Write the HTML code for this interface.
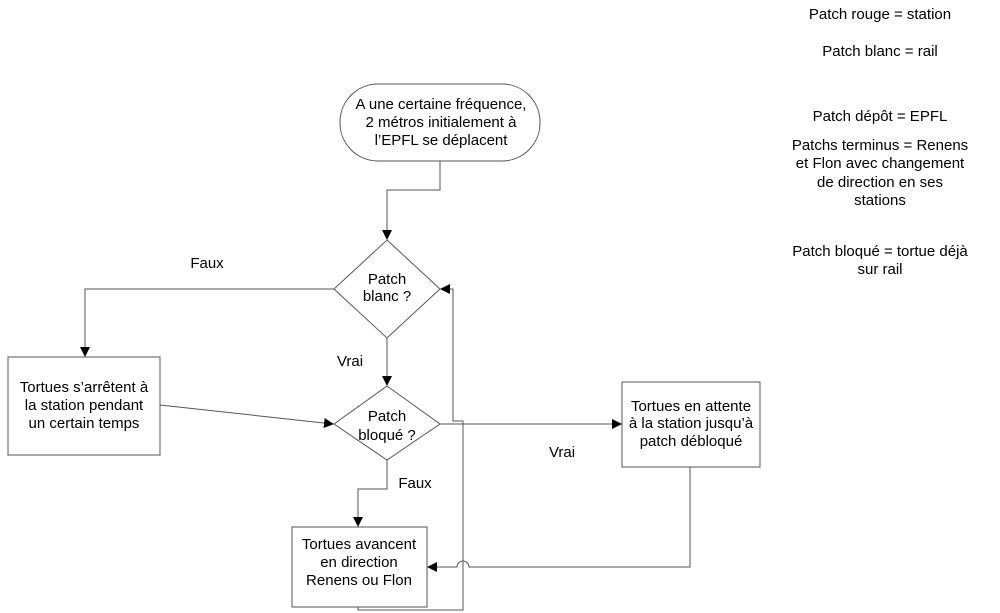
<!DOCTYPE html>
<html><head><meta charset="utf-8"><style>
html,body{margin:0;padding:0;background:#fff;width:1000px;height:613px;overflow:hidden}
svg text{font-family:"Liberation Sans",Arial,sans-serif;font-size:15px;fill:#000;text-anchor:middle}
</style></head><body>
<svg width="1000" height="613" viewBox="0 0 1000 613" xmlns="http://www.w3.org/2000/svg">
<defs><marker id="a" markerWidth="10" markerHeight="10" refX="9" refY="5" orient="auto" markerUnits="userSpaceOnUse"><path d="M0,0 L10,5 L0,10 z" fill="#000"/></marker></defs>
<g fill="none" stroke="#555" stroke-width="1">
<rect x="340" y="84" width="200" height="77" rx="38" ry="38" fill="#fff"/>
<polygon points="387,240 440,289 387,338 334,289" fill="#fff"/>
<polygon points="387,386 440,424 387,460 334,424" fill="#fff"/>
<rect x="8" y="357" width="152" height="98"/>
<rect x="622" y="382" width="138" height="85"/>
<rect x="292" y="527" width="135" height="80"/>
<polyline points="440,161 440,190 387,190 387,239" marker-end="url(#a)"/>
<polyline points="334,289 85,289 85,356" marker-end="url(#a)"/>
<polyline points="387,338 387,385" marker-end="url(#a)"/>
<line x1="160" y1="405" x2="333" y2="424" marker-end="url(#a)"/>
<polyline points="440,424 621,424" marker-end="url(#a)"/>
<polyline points="387,460 387,489 358,489 358,526" marker-end="url(#a)"/>
<path d="M690,467 L690,567 L469,567 A6,6 0 0 0 457,567 L428,567" marker-end="url(#a)"/>
<polyline points="358,607 358,610 463,610 463,421 453,421 453,289 441,289" marker-end="url(#a)"/>
</g>
<text x="441" y="109">A une certaine fréquence,</text>
<text x="441" y="127">2 métros initialement à</text>
<text x="441" y="145">l’EPFL se déplacent</text>
<text x="387" y="284">Patch</text>
<text x="387" y="301">blanc ?</text>
<text x="387" y="421">Patch</text>
<text x="387" y="440">bloqué ?</text>
<text x="84" y="392">Tortues s’arrêtent à</text>
<text x="84" y="410">la station pendant</text>
<text x="84" y="428">un certain temps</text>
<text x="691" y="411">Tortues en attente</text>
<text x="691" y="428">à la station jusqu’à</text>
<text x="691" y="446">patch débloqué</text>
<text x="359" y="549">Tortues avancent</text>
<text x="359" y="567">en direction</text>
<text x="359" y="585">Renens ou Flon</text>
<text x="207" y="268">Faux</text>
<text x="350" y="366">Vrai</text>
<text x="415" y="488">Faux</text>
<text x="562" y="457">Vrai</text>
<text x="880" y="19">Patch rouge = station</text>
<text x="880" y="56">Patch blanc = rail</text>
<text x="880" y="121">Patch dépôt = EPFL</text>
<text x="880" y="150">Patchs terminus = Renens</text>
<text x="880" y="168">et Flon avec changement</text>
<text x="880" y="187">de direction en ses</text>
<text x="880" y="205">stations</text>
<text x="880" y="256">Patch bloqué = tortue déjà</text>
<text x="880" y="274">sur rail</text>
</svg>
</body></html>
